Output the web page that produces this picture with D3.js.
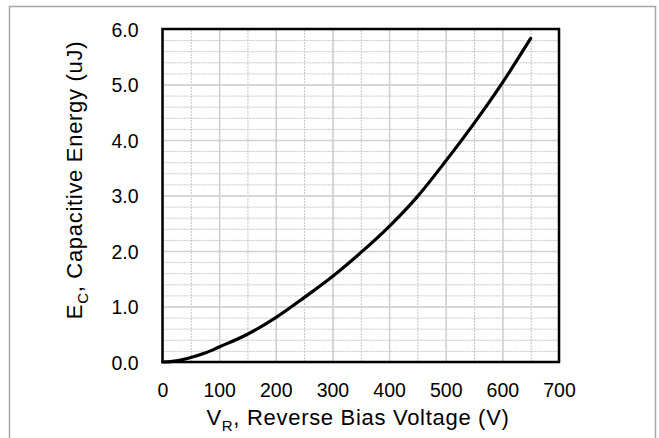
<!DOCTYPE html>
<html>
<head>
<meta charset="utf-8">
<script src="https://cdn.jsdelivr.net/npm/d3@7"></script>
<style>
  body { margin: 0; background: #fff; }
  svg text { font-family: "Liberation Sans", Arial, sans-serif; fill: #000; }
</style>
</head>
<body>
<svg id="chart"></svg>
<script>
// Capacitive energy vs reverse bias voltage
const voltage = [0, 25, 50, 75, 100, 150, 200, 250, 300, 350, 400, 450, 500, 550, 600, 650];
const energy  = [0, 0.02, 0.08, 0.16, 0.27, 0.5, 0.8, 1.16, 1.54, 1.97, 2.44, 2.98, 3.62, 4.3, 5.03, 5.83];

const xTicks = [0, 100, 200, 300, 400, 500, 600, 700];
const yTicks = [0, 1, 2, 3, 4, 5, 6];
const xMinor = d3.range(0, 701, 50);
const yMinor = d3.range(0, 6.01, 0.2);

const width = 659, height = 438;
const margin = {top: 29, right: 100, bottom: 76, left: 162.5};
const innerW = width - margin.left - margin.right;
const innerH = height - margin.top - margin.bottom;

const svg = d3.select('#chart')
    .attr('width', width)
    .attr('height', height);

// outer frame (bottom runs off the picture)
svg.append('rect')
    .attr('x', 9.5).attr('y', 6.5)
    .attr('width', 646).attr('height', 445)
    .attr('fill', 'none')
    .attr('stroke', '#a6a6a6')
    .attr('stroke-width', 1.5);

const chart = svg.append('g')
    .attr('transform', `translate(${margin.left},${margin.top})`);

const xScale = d3.scaleLinear().domain([0, 700]).range([0, innerW]);
const yScale = d3.scaleLinear().domain([0, 6]).range([innerH, 0]);

// minor grid (dashed)
chart.append('g')
    .attr('class', 'grid minor')
    .attr('transform', `translate(0,${innerH})`)
    .call(d3.axisBottom(xScale).tickValues(xMinor).tickSize(-innerH).tickFormat(''))
    .call(g => g.select('.domain').remove())
    .call(g => g.selectAll('line').attr('stroke', '#c4c4c4').attr('stroke-dasharray', '2,1'));

chart.append('g')
    .attr('class', 'grid minor')
    .call(d3.axisLeft(yScale).tickValues(yMinor).tickSize(-innerW).tickFormat(''))
    .call(g => g.select('.domain').remove())
    .call(g => g.selectAll('line').attr('stroke', '#c4c4c4').attr('stroke-dasharray', '2,1'));

// major grid (solid)
chart.append('g')
    .attr('class', 'grid major')
    .attr('transform', `translate(0,${innerH})`)
    .call(d3.axisBottom(xScale).tickValues(xTicks).tickSize(-innerH).tickFormat(''))
    .call(g => g.select('.domain').remove())
    .call(g => g.selectAll('line').attr('stroke', '#d0d0d0').attr('stroke-width', 1.5));

chart.append('g')
    .attr('class', 'grid major')
    .call(d3.axisLeft(yScale).tickValues(yTicks).tickSize(-innerW).tickFormat(''))
    .call(g => g.select('.domain').remove())
    .call(g => g.selectAll('line').attr('stroke', '#d0d0d0').attr('stroke-width', 1.5));

// tick labels
chart.append('g')
    .attr('class', 'axis x-axis')
    .attr('transform', `translate(0,${innerH})`)
    .call(d3.axisBottom(xScale).tickValues(xTicks).tickSize(0).tickPadding(35))
    .call(g => g.select('.domain').remove())
    .call(g => g.selectAll('text').attr('font-size', 19.5).attr('dy', 0).attr('fill', '#000'));

chart.append('g')
    .attr('class', 'axis y-axis')
    .call(d3.axisLeft(yScale).tickValues(yTicks).tickSize(0).tickPadding(24).tickFormat(d3.format('.1f')))
    .call(g => g.select('.domain').remove())
    .call(g => g.selectAll('text').attr('font-size', 19.5).attr('dy', '0.36em').attr('fill', '#000'));

// curve
const line = d3.line()
    .x((d, i) => xScale(voltage[i]))
    .y(d => yScale(d))
    .curve(d3.curveMonotoneX);

chart.append('path')
    .datum(energy)
    .attr('d', line)
    .attr('fill', 'none')
    .attr('stroke', '#000')
    .attr('stroke-width', 3.2)
    .attr('stroke-linecap', 'round');

// plot frame
chart.append('rect')
    .attr('width', innerW)
    .attr('height', innerH)
    .attr('fill', 'none')
    .attr('stroke', '#000')
    .attr('stroke-width', 2.5);

// axis titles
const xTitle = svg.append('text')
    .attr('x', 358)
    .attr('y', 425)
    .attr('text-anchor', 'middle')
    .attr('font-size', 22)
    .attr('letter-spacing', 0.7);
xTitle.append('tspan').text('V');
xTitle.append('tspan').attr('font-size', 15).attr('dy', 6).text('R');
xTitle.append('tspan').attr('dy', -6).text(', Reverse Bias Voltage (V)');

const yTitle = svg.append('text')
    .attr('transform', 'translate(82,180) rotate(-90)')
    .attr('text-anchor', 'middle')
    .attr('font-size', 22)
    .attr('letter-spacing', 0.7);
yTitle.append('tspan').text('E');
yTitle.append('tspan').attr('font-size', 15).attr('dy', 6).text('C');
yTitle.append('tspan').attr('dy', -6).text(', Capacitive Energy (uJ)');
</script>
</body>
</html>
